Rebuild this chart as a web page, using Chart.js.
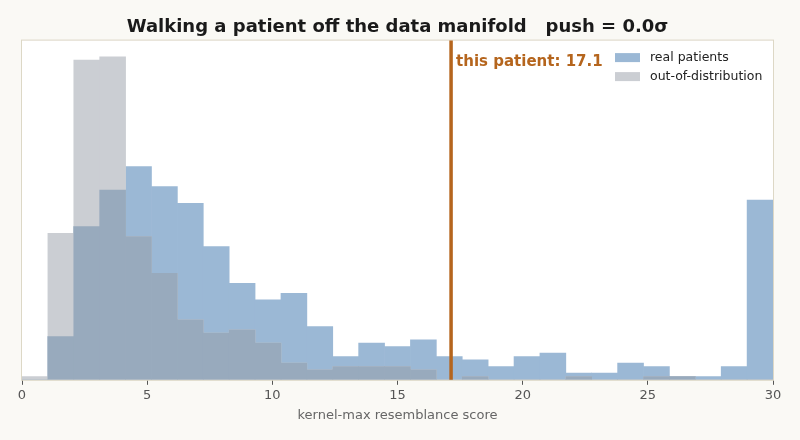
<!DOCTYPE html>
<html>
<head>
<meta charset="utf-8">
<script src="https://cdn.jsdelivr.net/npm/chart.js@4"></script>
<style>
  html, body { margin: 0; padding: 0; background: #faf9f5; }
  #wrap { width: 800px; height: 440px; }
</style>
</head>
<body>
<div id="wrap"><canvas id="histChart" width="800" height="440"></canvas></div>
<script>
// ======================
// DATA
// ======================
const xMin = 0;
const xMax = 30;
const binCount = 29;
const realCounts = [0, 13, 46, 57, 64, 58, 53, 40, 29, 24, 26, 16, 7, 11, 10, 12, 7, 6, 4, 7, 8, 2, 2, 5, 4, 1, 1, 4, 54];
const oodCounts  = [1, 44, 96, 97, 43, 32, 18, 14, 15, 11, 5, 3, 4, 4, 4, 3, 0, 1, 0, 0, 0, 1, 0, 0, 1, 1, 0, 0, 0];
const xTicks = [0, 5, 10, 15, 20, 25, 30];
const patientScore = 17.14;
const pushSigma = 0.0;
const seriesLabels = ["real patients", "out-of-distribution"];

const binWidth = (xMax - xMin) / binCount;
const toPoints = counts => counts.map((c, i) => ({ x: xMin + (i + 0.5) * binWidth, y: c }));
// where both histograms stack up, the two translucent fills blend into a darker grey-blue
const sharedCounts = realCounts.map((c, i) => Math.min(c, oodCounts[i]));
const yTop = Math.max(...realCounts, ...oodCounts) * 1.05;

const FONT = "'DejaVu Sans', sans-serif";
const ORANGE = "#b5651d";
const BLUE = "#9bb8d5";
const GREY = "#cbced3";
const BLEND = "#98aabd";

// plot background, frame, marker line, legend
const decor = {
  id: "decor",
  beforeDraw(chart) {
    const { ctx, chartArea: a } = chart;
    ctx.save();
    ctx.fillStyle = "#faf9f5";
    ctx.fillRect(0, 0, chart.width, chart.height);
    ctx.fillStyle = "#ffffff";
    ctx.fillRect(a.left, a.top, a.right - a.left, a.bottom - a.top);
    ctx.restore();
  },
  afterDatasetsDraw(chart) {
    const { ctx, chartArea: a, scales } = chart;
    ctx.save();
    // frame
    ctx.strokeStyle = "#ddd8c6";
    ctx.lineWidth = 1;
    ctx.strokeRect(a.left - 0.5, a.top - 0.5, a.right - a.left + 1, a.bottom - a.top + 1);

    // this patient marker
    const px = scales.x.getPixelForValue(patientScore);
    ctx.strokeStyle = ORANGE;
    ctx.lineWidth = 3.5;
    ctx.beginPath();
    ctx.moveTo(px, a.top);
    ctx.lineTo(px, a.bottom);
    ctx.stroke();
    ctx.fillStyle = ORANGE;
    ctx.font = "bold 15px " + FONT;
    ctx.textAlign = "left";
    ctx.textBaseline = "middle";
    ctx.fillText("this patient: " + patientScore.toFixed(1), px + 5, a.top + 22);

    // legend
    ctx.font = "12.5px " + FONT;
    [BLUE, GREY].forEach((col, i) => {
      const y = a.top + 17 + i * 19;
      ctx.fillStyle = col;
      ctx.fillRect(a.right - 158, y - 4.5, 25, 9);
      ctx.fillStyle = "#222";
      ctx.fillText(seriesLabels[i], a.right - 123, y);
    });
    ctx.restore();
  }
};

new Chart(document.getElementById("histChart"), {
  type: "bar",
  data: {
    datasets: [{
      label: seriesLabels[0],
      data: toPoints(realCounts),
      backgroundColor: BLUE,
      order: 3
    }, {
      label: seriesLabels[1],
      data: toPoints(oodCounts),
      backgroundColor: GREY,
      order: 2
    }, {
      label: "overlap",
      data: toPoints(sharedCounts),
      backgroundColor: BLEND,
      order: 1
    }]
  },
  options: {
    responsive: false,
    animation: false,
    layout: { padding: { left: 22, right: 27, top: 0, bottom: 17 } },
    datasets: {
      bar: {
        grouped: false,
        borderWidth: 0,
        barPercentage: 1,
        categoryPercentage: 1
      }
    },
    plugins: {
      legend: { display: false },
      tooltip: { enabled: false },
      title: {
        display: true,
        text: "Walking a patient off the data manifold   push = " + pushSigma.toFixed(1) + "σ",
        color: "#1a1a1a",
        font: { family: FONT, size: 18, weight: "bold" },
        padding: { top: 17, bottom: 2 }
      }
    },
    scales: {
      x: {
        type: "linear",
        min: xMin,
        max: xMax,
        offset: false,
        afterBuildTicks: s => { s.ticks = xTicks.map(v => ({ value: v })); },
        grid: { offset: false, drawOnChartArea: false, drawTicks: true, tickLength: 5, color: "#555" },
        border: { display: false },
        ticks: { color: "#555", padding: 3, font: { family: FONT, size: 13 } },
        title: {
          display: true,
          text: "kernel-max resemblance score",
          color: "#666",
          font: { family: FONT, size: 13 },
          padding: { top: 1, bottom: 0 }
        }
      },
      y: { display: false, min: 0, max: yTop }
    }
  },
  plugins: [decor]
});
</script>
</body>
</html>
